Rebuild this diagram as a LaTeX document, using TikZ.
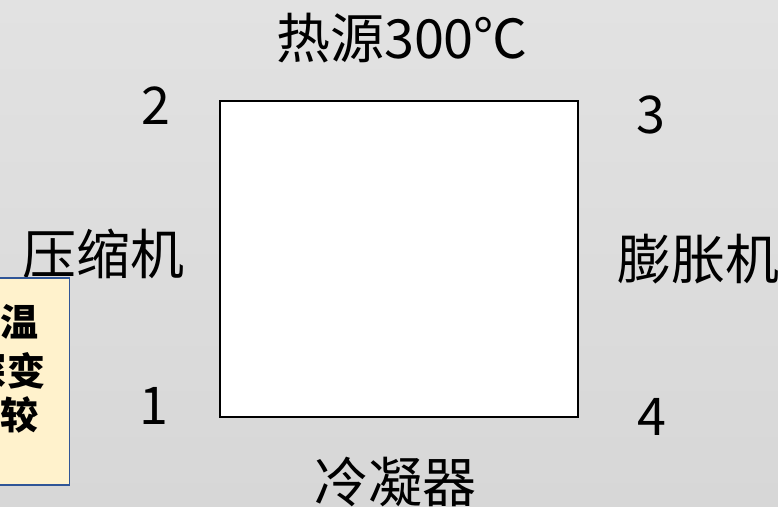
\documentclass[tikz,border=0pt]{standalone}
\usepackage{fontspec}
\setmainfont{Noto Sans CJK SC}
\definecolor{bgtop}{RGB}{226,226,226}
\definecolor{bgbot}{RGB}{215,215,215}
\definecolor{noteFill}{RGB}{255,242,204}
\definecolor{noteLine}{RGB}{47,85,151}
\tikzset{
  lbl/.style={inner sep=0pt, font=\fontsize{54}{60}\selectfont},
  num/.style={inner sep=0pt, font=\fontsize{52}{60}\selectfont},
  notech/.style={inner sep=0pt, font=\fontsize{38}{44}\selectfont\bfseries},
}
\begin{document}
\begin{tikzpicture}[x=1pt,y=-1pt]
\useasboundingbox (0,0) rectangle (778,506);
\clip (0,0) rectangle (778,506);
\shade[top color=bgtop, bottom color=bgbot] (0,0) rectangle (778,506);
% cycle box
\node[draw=black, line width=2pt, fill=white, minimum width=358pt, minimum height=316pt, inner sep=0pt] (cyc) at (399,259) {};
% labels
\node[lbl] (heat) at (402,38) {热源300℃};
\node[lbl] (comp) at (103,254) {压缩机};
\node[lbl] (expd) at (698,259) {膨胀机};
\node[lbl] (cond) at (395,482) {冷凝器};
\node[num] (p2) at (156,106) {2};
\node[num] (p3) at (651,115) {3};
\node[num] (p1) at (154,406) {1};
\node[num] (p4) at (652,417) {4};
% note box
\node[draw=noteLine, line width=1.5pt, fill=noteFill, minimum width=110pt, minimum height=207pt, inner sep=0pt, anchor=north east] (note) at (70,277) {};
\node[notech] (n1) at (20,322) {温};
\node[notech] (n2a) at (-12,371) {深};
\node[notech] (n2) at (26,371) {变};
\node[notech] (n3) at (19,415) {较};
\end{tikzpicture}
\end{document}
